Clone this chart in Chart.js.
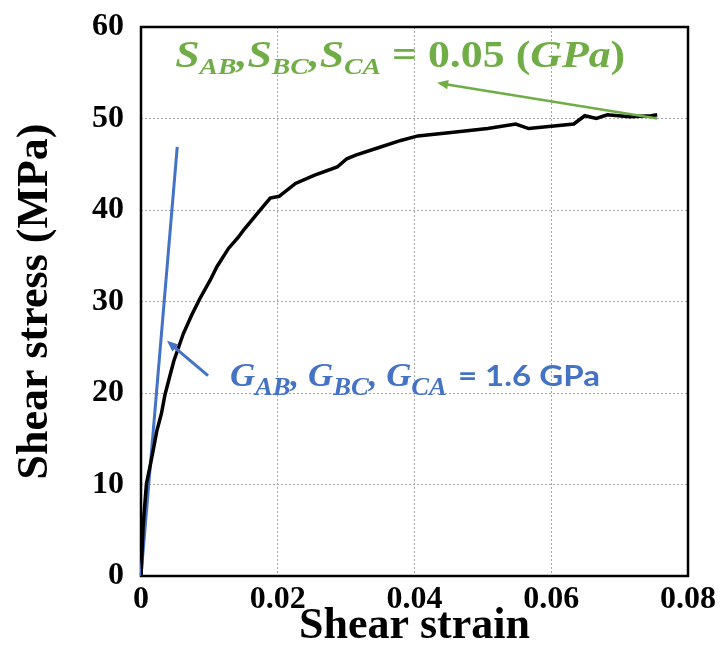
<!DOCTYPE html>
<html><head><meta charset="utf-8">
<script src="https://cdn.jsdelivr.net/npm/chart.js@4/dist/chart.umd.min.js"></script>
<style>html,body{margin:0;padding:0;background:#fff}#wrap{width:725px;height:671px}</style>
</head><body><div id="wrap"><canvas id="c" width="725" height="671"></canvas></div>
<script>
// ---- data ----
const strain = [0, 0.0003, 0.0008, 0.0013, 0.0018, 0.0023, 0.0030, 0.0035, 0.0042, 0.0048, 0.0062, 0.0074, 0.0086, 0.0101, 0.0111, 0.0128, 0.0142, 0.0150, 0.0160, 0.0180, 0.0189, 0.0202, 0.0226, 0.0254, 0.0287, 0.0301, 0.0314, 0.0347, 0.0380, 0.0405, 0.0457, 0.0507, 0.0548, 0.0567, 0.0633, 0.0649, 0.0666, 0.0682, 0.0715, 0.0746, 0.0755];
const stress = [0, 5.4, 10.1, 11.9, 13.8, 15.8, 17.8, 19.8, 21.8, 23.5, 26.5, 28.5, 30.3, 32.3, 33.8, 35.8, 37.0, 37.8, 38.7, 40.5, 41.3, 41.5, 42.9, 43.8, 44.7, 45.6, 46.0, 46.8, 47.6, 48.1, 48.5, 48.9, 49.4, 48.9, 49.4, 50.3, 50.0, 50.4, 50.2, 50.3, 50.4];
const modulusStrain = [0, 0.0053];
const modulusStress = [0, 46.9];
const xTicks = [0, 0.02, 0.04, 0.06, 0.08];
const yTicks = [0, 10, 20, 30, 40, 50, 60];
const xTitle = 'Shear strain';
const yTitle = 'Shear stress (MPa)';
// annotation text runs
const strengthRuns = [['S','i'],['AB','s'],[',','i'],['S','i'],['BC','s'],[',','i'],['S','i'],['CA','s'],[' = ','r'],['0.05','r'],[' (','r'],['GPa','i'],[')','r']];
const modulusRuns = [['G','i'],['AB','s'],[', ','i'],['G','i'],['BC','s'],[', ','i'],['G','i'],['CA','s']];
const modulusValue = '= 1.6 GPa';
// annotation anchors (data units)
const strengthTextAt = [0.0050, 55.6];
const strengthArrow = [[0.0755, 50.0], [0.0433, 53.9]];
const modulusTextAt = [0.0130, 20.8];
const modulusArrow = [[0.0098, 21.9], [0.0038, 25.7]];

const GREEN = '#70AD47', BLUE = '#4472C4';

function toXY(a, b) { return a.map((v, i) => ({x: v, y: b[i]})); }

function drawRich(ctx, runs, x, y, size, targetW, color, fontFor, subRatio, subDrop) {
  let w = 0;
  const parts = runs.map(r => {
    const sub = r[1] === 's';
    const f = fontFor(r[1], sub ? Math.round(size * subRatio) : size); ctx.font = f;
    const m = ctx.measureText(r[0]).width; w += m;
    return {t: r[0], f, m, sub};
  });
  const sx = targetW / w;
  ctx.save(); ctx.translate(x, y); ctx.scale(sx, 1);
  ctx.fillStyle = color; ctx.textBaseline = 'alphabetic'; ctx.textAlign = 'left';
  let cx = 0;
  parts.forEach(p => { ctx.font = p.f; ctx.fillText(p.t, cx, p.sub ? subDrop : 0); cx += p.m; });
  ctx.restore();
  return x + targetW;
}

function drawArrow(ctx, from, to, color, lw, head) {
  const ang = Math.atan2(to[1] - from[1], to[0] - from[0]);
  ctx.save(); ctx.strokeStyle = color; ctx.fillStyle = color; ctx.lineWidth = lw;
  ctx.beginPath(); ctx.moveTo(from[0], from[1]);
  ctx.lineTo(to[0] - Math.cos(ang) * head * 0.7, to[1] - Math.sin(ang) * head * 0.7); ctx.stroke();
  ctx.beginPath(); ctx.moveTo(to[0], to[1]);
  ctx.lineTo(to[0] - head * Math.cos(ang - 0.4), to[1] - head * Math.sin(ang - 0.4));
  ctx.lineTo(to[0] - head * Math.cos(ang + 0.4), to[1] - head * Math.sin(ang + 0.4));
  ctx.closePath(); ctx.fill();
  ctx.restore();
}

const framePlugin = {
  id: 'frame',
  beforeDatasetsDraw(chart) {
    const {ctx, chartArea: a} = chart;
    ctx.save(); ctx.strokeStyle = '#000'; ctx.lineWidth = 2.5;
    ctx.strokeRect(a.left, a.top, a.right - a.left, a.bottom - a.top);
    ctx.restore();
  },
  afterDatasetsDraw(chart) {
    const {ctx, scales: {x, y}} = chart;
    const P = p => [x.getPixelForValue(p[0]), y.getPixelForValue(p[1])];
    drawArrow(ctx, P(strengthArrow[0]), P(strengthArrow[1]), GREEN, 2.5, 12);
    drawArrow(ctx, P(modulusArrow[0]), P(modulusArrow[1]), BLUE, 3, 12);
    const gt = P(strengthTextAt);
    drawRich(ctx, strengthRuns, gt[0], gt[1], 38, 450, GREEN, (k, s) => {
      if (k === 'r') return `bold ${s}px "Liberation Serif"`;
      return `italic bold ${s}px "Liberation Serif"`;
    }, 0.62, 7);
    const bt = P(modulusTextAt);
    const end = drawRich(ctx, modulusRuns, bt[0], bt[1], 34, 217, BLUE, (k, s) => `italic bold ${s}px "Liberation Serif"`, 0.75, 9);
    drawRich(ctx, [[modulusValue, 'n']], end + 11, bt[1], 28, 142, BLUE, (k, s) => `bold ${s}px Lato`, 1, 0);
  }
};

const tickFont = {family: '"Liberation Serif"', weight: 'bold', size: 32};
const titleFont = {family: '"Liberation Serif"', weight: 'bold', size: 44, lineHeight: 1};

new Chart(document.getElementById('c'), {
  type: 'scatter',
  data: {
    datasets: [
      {data: toXY(strain, stress), showLine: true, borderColor: '#000', borderWidth: 3.5, pointRadius: 0, tension: 0},
      {data: toXY(modulusStrain, modulusStress), showLine: true, borderColor: BLUE, borderWidth: 3, pointRadius: 0, clip: false}
    ]
  },
  options: {
    responsive: false, animation: false, devicePixelRatio: 1,
    layout: {padding: {top: 27, right: 37, left: 0, bottom: 0}},
    plugins: {legend: {display: false}, tooltip: {enabled: false}},
    scales: {
      x: {
        type: 'linear', min: 0, max: 0.08,
        afterBuildTicks: s => { s.ticks = xTicks.map(v => ({value: v})); },
        afterFit: s => { s.height = 95; s.paddingLeft = 0; s.paddingRight = 0; },
        ticks: {font: tickFont, color: '#000', padding: 5, maxRotation: 0, callback: v => v === 0 ? '0' : v.toFixed(2)},
        grid: {color: '#a6a6a6', lineWidth: 1, drawTicks: false},
        border: {display: false, dash: [2, 2]},
        title: {display: true, text: xTitle, font: titleFont, color: '#000', padding: {bottom: 22, top: 0}}
      },
      y: {
        type: 'linear', min: 0, max: 60,
        afterBuildTicks: s => { s.ticks = yTicks.map(v => ({value: v})); },
        afterFit: s => { s.width = 141; s.paddingTop = 0; s.paddingBottom = 0; },
        ticks: {font: tickFont, color: '#000', padding: 17, callback: v => String(v)},
        grid: {color: '#a6a6a6', lineWidth: 1, drawTicks: false},
        border: {display: false, dash: [2, 2]},
        title: {display: true, text: yTitle, font: titleFont, color: '#000', padding: {top: 14, bottom: 0}}
      }
    }
  },
  plugins: [framePlugin]
});
</script></body></html>
